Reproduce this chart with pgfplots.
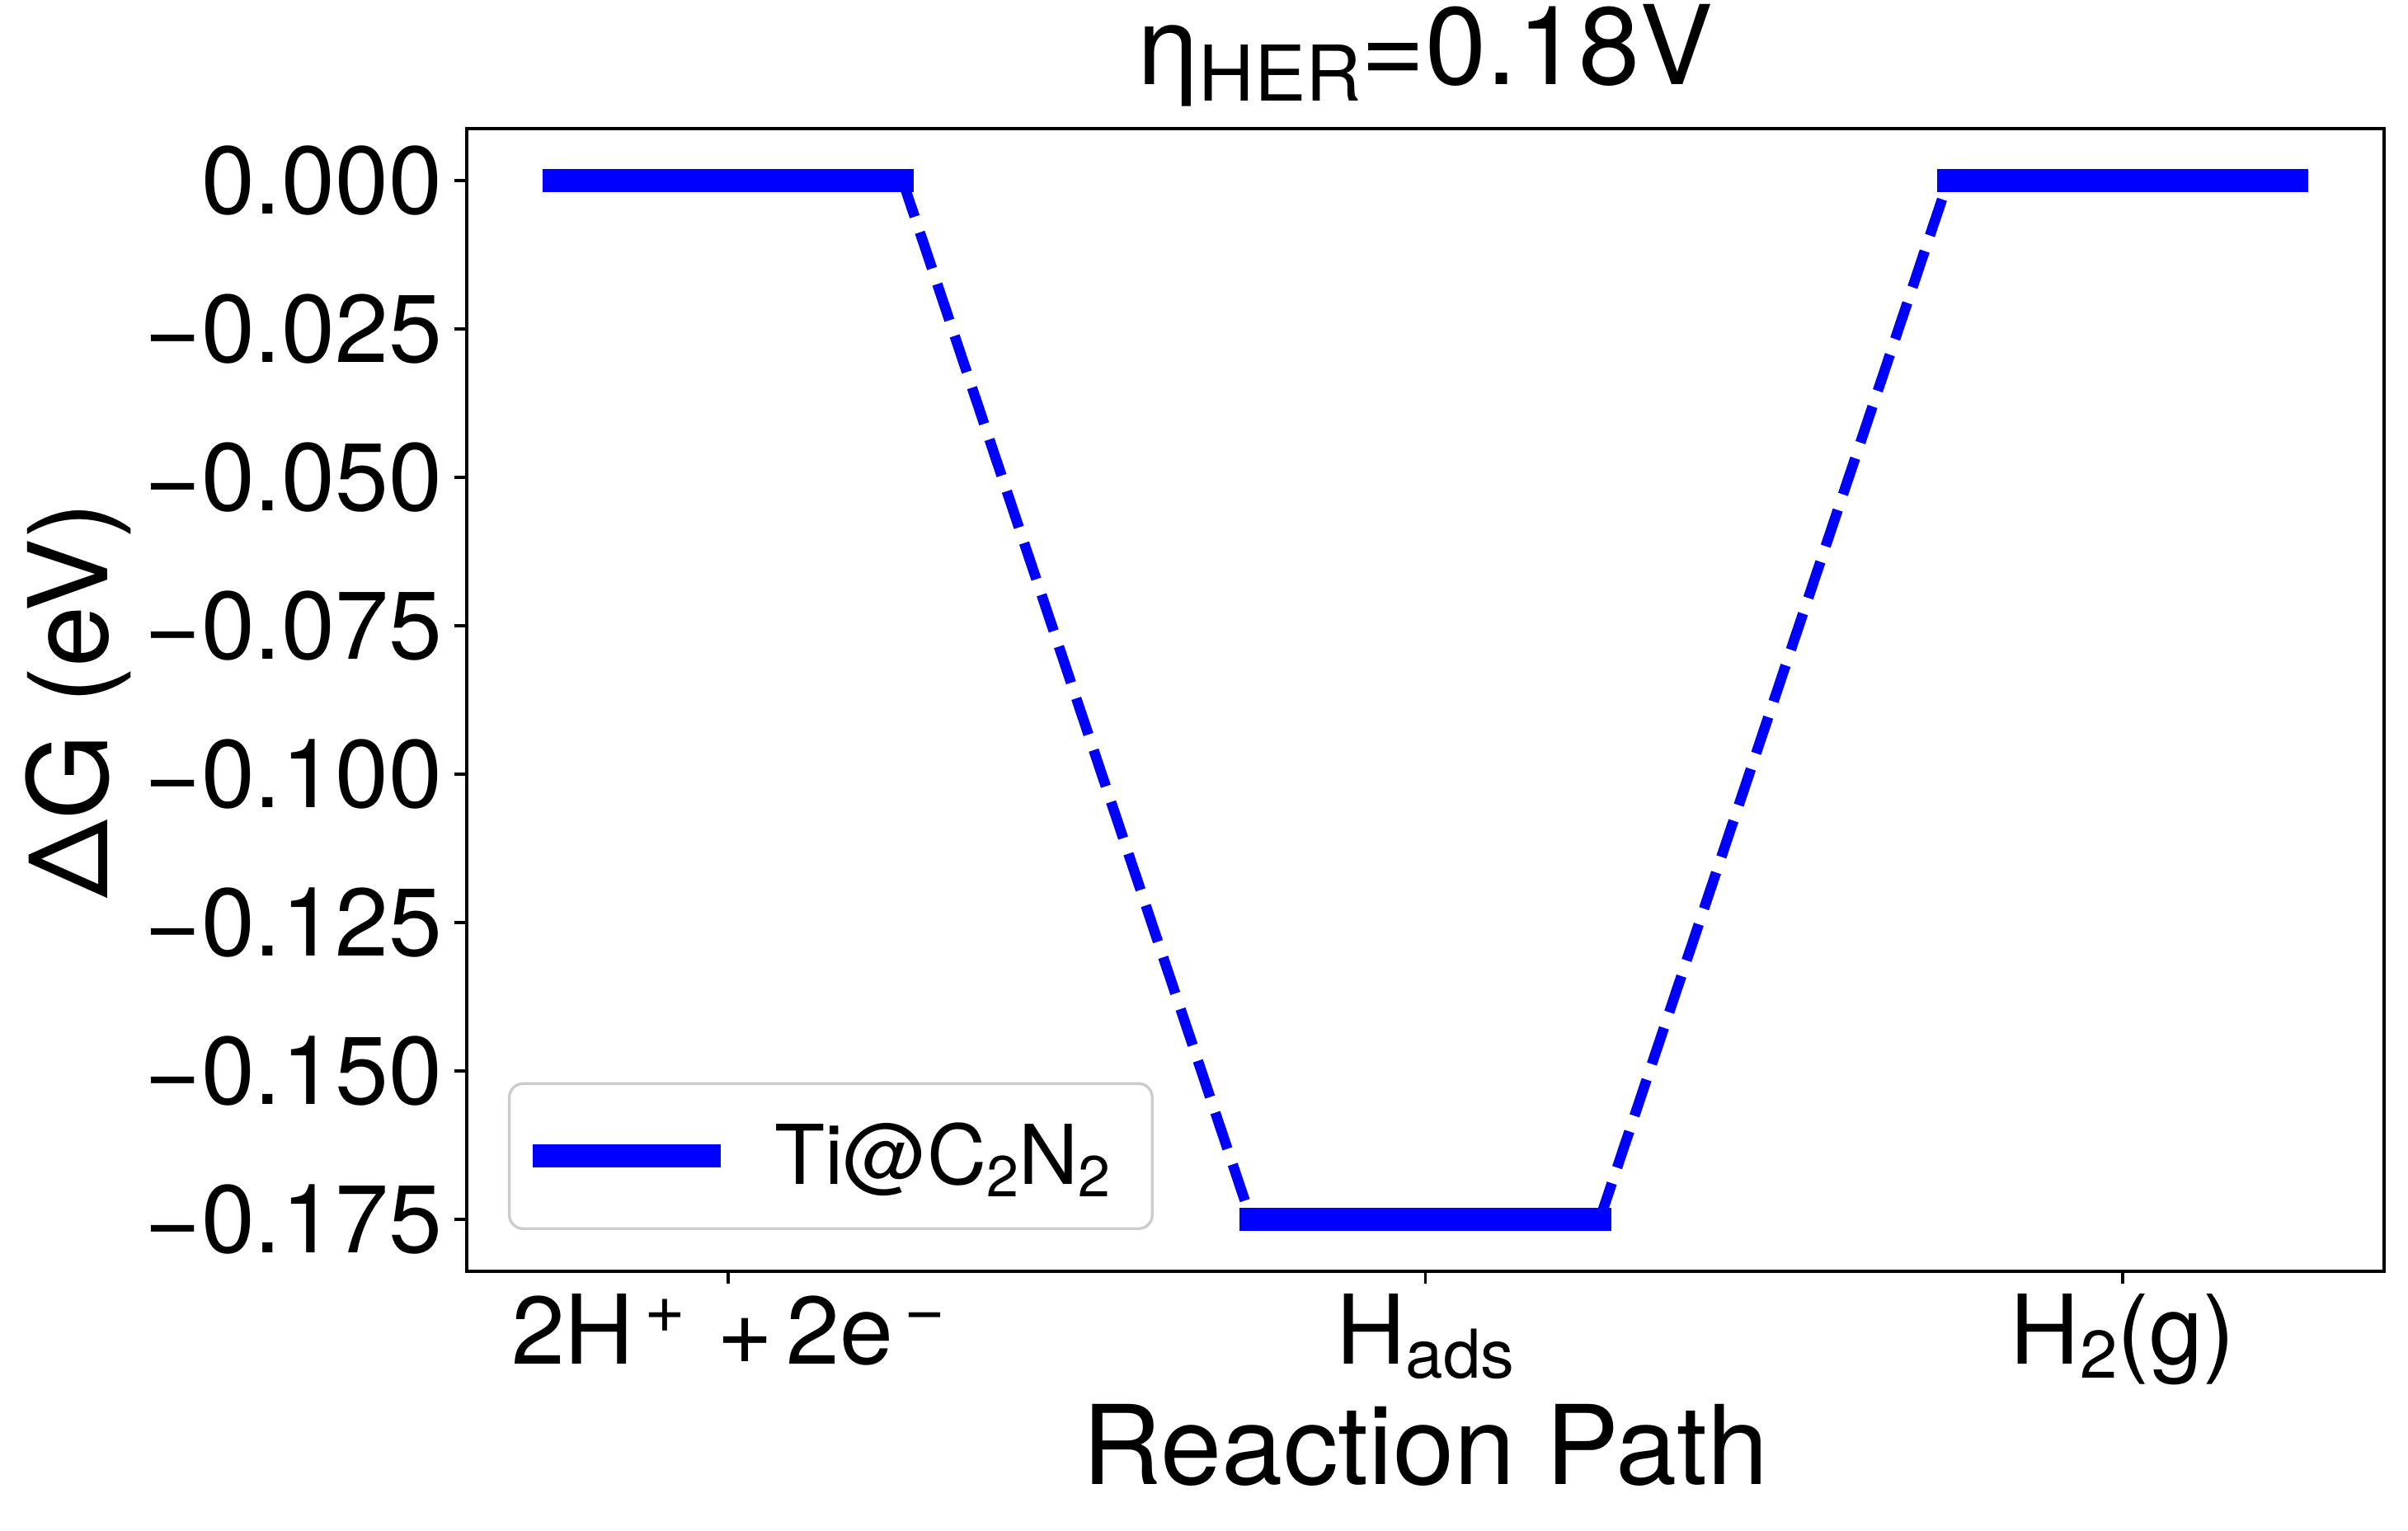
\documentclass[border=0pt]{standalone}
\usepackage{fontspec}
\setmainfont{TeX Gyre Heros}
\usepackage{pgfplots}
\pgfplotsset{compat=1.18}
\newcommand{\subs}[2]{\raisebox{-0.15em}{\fontsize{#1}{#1}\selectfont #2}}
\newcommand{\sups}[2]{\raisebox{0.32em}{\fontsize{#1}{#1}\selectfont #2}}
\definecolor{mplblue}{RGB}{0,0,255}
\begin{document}
\begin{tikzpicture}
\path[use as bounding box] (-135.84pt,-75.6pt) rectangle (564.96pt,370.08pt);
\begin{axis}[
  at={(0,0)}, anchor=south west,
  scale only axis, width=558pt, height=332.64pt,
  xmin=-0.375, xmax=2.375, ymin=-0.18375, ymax=0.00875,
  axis line style={line width=0.8pt, black},
  tick pos=left, tick align=outside, major tick length=3.5pt,
  every tick/.style={black, line width=0.8pt},
  xtick={0,1,2},
  xticklabels={{2H\hspace{3pt}\sups{20.5}{+}\hspace{9pt}+\hspace{4pt}2e\hspace{3pt}\sups{20.5}{−}},
               {H\subs{19.6}{ads}},
               {H\subs{19.6}{2}(g)}},
  ytick={0,-0.025,-0.05,-0.075,-0.1,-0.125,-0.15,-0.175},
  yticklabels={0.000,−0.025,−0.050,−0.075,−0.100,−0.125,−0.150,−0.175},
  ticklabel style={font=\fontsize{28}{33.6}\selectfont},
  xticklabel style={anchor=base, yshift=-23.4pt, inner sep=0pt},
  yticklabel style={anchor=east, xshift=-3.5pt, inner sep=0pt},
  xlabel={Reaction Path},
  ylabel={ΔG (eV)},
  label style={font=\fontsize{32}{38}\selectfont},
  xlabel style={at={(axis description cs:0.5,-0.18669)}, anchor=base, inner sep=0pt},
  ylabel style={at={(axis description cs:-0.18746,0.5)}, anchor=base, inner sep=0pt},
  title={η\subs{22.4}{HER}=0.18V},
  title style={at={(axis description cs:0.5,1)}, anchor=base, yshift=6.72pt, inner sep=0pt, font=\fontsize{32}{38}\selectfont},
  legend cell align=left,
  legend style={at={(0,0)}, anchor=south west, xshift=12pt, yshift=12pt,
    draw=black!20, line width=0.8pt, rounded corners=4pt, fill=white,
    fill opacity=0.8, text opacity=1, inner xsep=6.7pt, inner ysep=11.4pt,
    font=\fontsize{24}{28}\selectfont, nodes={inner sep=0pt},
    /tikz/every odd column/.append style={column sep=15.8pt}},
]
\addplot[mplblue, line width=3pt, dash pattern=on 11.1pt off 4.8pt, forget plot]
  coordinates {(0.25,0) (0.75,-0.175)};
\addplot[mplblue, line width=3pt, dash pattern=on 11.1pt off 4.8pt, forget plot]
  coordinates {(1.25,-0.175) (1.75,0)};
\addplot[mplblue, line width=6.72pt, line cap=rect,
  legend image code/.code={\draw[mplblue, line width=6.72pt, line cap=rect] (0pt,0pt) -- (48pt,0pt);}]
  coordinates {(-0.25,0) (0.25,0)};
\addlegendentry{Ti@C\subs{16.8}{2}N\subs{16.8}{2}\rule{5.5pt}{0pt}}
\addplot[mplblue, line width=6.72pt, line cap=rect, forget plot]
  coordinates {(0.75,-0.175) (1.25,-0.175)};
\addplot[mplblue, line width=6.72pt, line cap=rect, forget plot]
  coordinates {(1.75,0) (2.25,0)};
\end{axis}
\end{tikzpicture}
\end{document}
